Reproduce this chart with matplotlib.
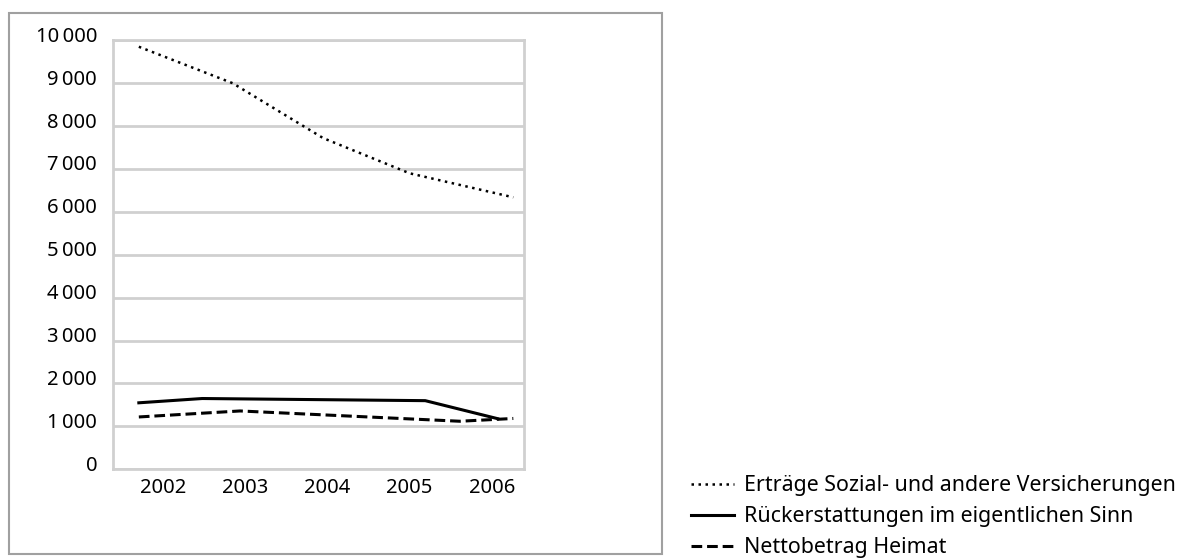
import matplotlib
matplotlib.use("Agg")
import matplotlib.pyplot as plt
import matplotlib.transforms as mtransforms
from matplotlib.patches import Rectangle

# values (x in years, y in absolute numbers)
years = [2002, 2003, 2004, 2005, 2006]
ytick_vals = [0, 1000, 2000, 3000, 4000, 5000, 6000, 7000, 8000, 9000, 10000]

ertraege_x = [2001.82, 2002.96, 2004.06, 2005.11, 2006.37]
ertraege_y = [9850, 9000, 7720, 6900, 6340]

rueck_x = [2001.82, 2002.59, 2005.30, 2006.18]
rueck_y = [1550, 1650, 1600, 1180]

netto_x = [2001.82, 2003.05, 2005.72, 2006.37]
netto_y = [1220, 1360, 1120, 1185]

labels = ["Erträge Sozial- und andere Versicherungen",
          "Rückerstattungen im eigentlichen Sinn",
          "Nettobetrag Heimat"]

plt.rcParams['font.family'] = ['Noto Sans', 'DejaVu Sans']
W, H = 1178, 559
fig = plt.figure(figsize=(W / 100, H / 100), dpi=100)

# outer grey frame around the chart
fig.add_artist(Rectangle((9 / W, 1 - 554 / H), (662 - 9) / W, (554 - 13) / H,
                         transform=fig.transFigure, fill=False,
                         edgecolor='#a0a0a0', linewidth=1.5))

ax = fig.add_axes([112.5 / W, 1 - 469.3 / H, (524 - 112.5) / W, (469.3 - 40.3) / H])
grid_c = '#d0d0d0'
for s in ax.spines.values():
    s.set_color(grid_c)
    s.set_linewidth(2)

ax.set_xlim(2001.5, 2006.5)
ax.set_ylim(0, 10000)
ax.set_yticks(ytick_vals)
ax.set_yticklabels([f"{v:,}".replace(",", "\u2009") for v in ytick_vals])
ax.set_xticks(years)
ax.set_xticklabels([str(y) for y in years])
ax.yaxis.grid(True, color=grid_c, linewidth=2)
ax.set_axisbelow(True)
ax.tick_params(length=0, labelsize=14.5, colors='black')
ax.tick_params(axis='y', pad=11)
ax.tick_params(axis='x', pad=6)

# labels sit a bit off their gridlines/categories in the original
up = mtransforms.ScaledTranslation(0, 6 / 100, fig.dpi_scale_trans)
for lab in ax.get_yticklabels():
    lab.set_transform(lab.get_transform() + up)
right = mtransforms.ScaledTranslation(9 / 100, 0, fig.dpi_scale_trans)
for lab in ax.get_xticklabels():
    lab.set_transform(lab.get_transform() + right)

l1, = ax.plot(ertraege_x, ertraege_y, color='black', linewidth=1.8,
              linestyle=(0, (1, 1.8)))
l2, = ax.plot(rueck_x, rueck_y, color='black', linewidth=2.2, linestyle='-')
l3, = ax.plot(netto_x, netto_y, color='black', linewidth=2.2,
              linestyle=(0, (3.5, 1.6)))

fig.legend([l1, l2, l3], labels, loc='upper left',
           bbox_to_anchor=(691 / W, 1 - 475 / H), frameon=False,
           fontsize=15.4, handlelength=2.0, handletextpad=0.5,
           labelspacing=0.47, borderpad=0, borderaxespad=0)

fig.savefig("out.png", dpi=100)
